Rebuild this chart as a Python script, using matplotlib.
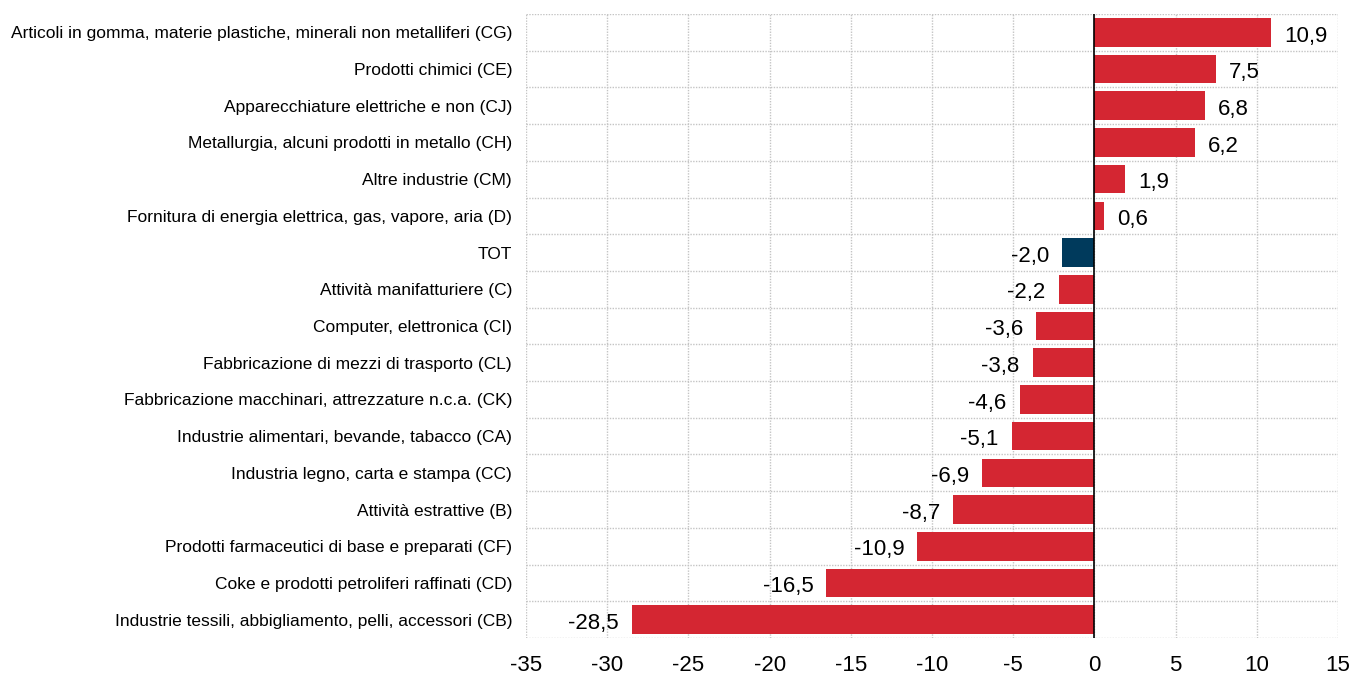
import numpy as np
import matplotlib.pyplot as plt
from matplotlib import font_manager

# Data (top to bottom)
categories = [
    "Articoli in gomma, materie plastiche, minerali non metalliferi (CG)",
    "Prodotti chimici (CE)",
    "Apparecchiature elettriche e non (CJ)",
    "Metallurgia, alcuni prodotti in metallo (CH)",
    "Altre industrie (CM)",
    "Fornitura di energia elettrica, gas, vapore, aria (D)",
    "TOT",
    "Attività manifatturiere (C)",
    "Computer, elettronica (CI)",
    "Fabbricazione di mezzi di trasporto (CL)",
    "Fabbricazione macchinari, attrezzature n.c.a. (CK)",
    "Industrie alimentari, bevande, tabacco (CA)",
    "Industria legno, carta e stampa (CC)",
    "Attività estrattive (B)",
    "Prodotti farmaceutici di base e preparati (CF)",
    "Coke e prodotti petroliferi raffinati (CD)",
    "Industrie tessili, abbigliamento, pelli, accessori (CB)",
]
values = [10.9, 7.5, 6.8, 6.2, 1.9, 0.6, -2.0, -2.2, -3.6, -3.8, -4.6, -5.1,
          -6.9, -8.7, -10.9, -16.5, -28.5]
x_ticks = [-35, -30, -25, -20, -15, -10, -5, 0, 5, 10, 15]

names = {f.name for f in font_manager.fontManager.ttflist}
fam = "Liberation Sans Narrow" if "Liberation Sans Narrow" in names else "Liberation Sans"
plt.rcParams["font.family"] = [fam, "DejaVu Sans"]

red = "#D42632"
navy = "#003A5C"
colors = [navy if c == "TOT" else red for c in categories]

fig = plt.figure(figsize=(13.54, 6.78), dpi=100)
ax = fig.add_axes([526 / 1354, 40 / 678, (1338 - 526) / 1354, (638 - 14) / 678])

y = np.arange(len(categories))
ax.barh(y, values, height=0.78, color=colors, zorder=3)
ax.set_xlim(-35, 15)
ax.set_ylim(len(categories) - 0.5, -0.5)

ax.set_xticks(x_ticks)
ax.set_xticklabels([str(t) for t in x_ticks], fontsize=16)
ax.set_yticks(y)
ax.set_yticklabels(categories, fontsize=12.5)
ax.set_yticks(np.arange(-0.5, len(categories)), minor=True)
ax.tick_params(axis="both", which="both", length=0)
ax.tick_params(axis="y", pad=10)
ax.tick_params(axis="x", pad=12)

ax.grid(axis="x", which="major", color="#C4C4C4", linestyle=(0, (1, 1)), linewidth=1, zorder=0)
ax.grid(axis="y", which="minor", color="#C4C4C4", linestyle=(0, (1, 1)), linewidth=1, zorder=0)
for s in ax.spines.values():
    s.set_visible(False)
ax.axvline(0, color="black", linewidth=1.2, zorder=4)

for yi, v in zip(y, values):
    lbl = f"{v:.1f}".replace(".", ",")
    if v >= 0:
        ax.text(v + 0.8, yi + 0.1, lbl, va="center", ha="left", fontsize=16, zorder=5)
    else:
        ax.text(v - 0.8, yi + 0.1, lbl, va="center", ha="right", fontsize=16, zorder=5)

fig.savefig("out.png", dpi=100)
